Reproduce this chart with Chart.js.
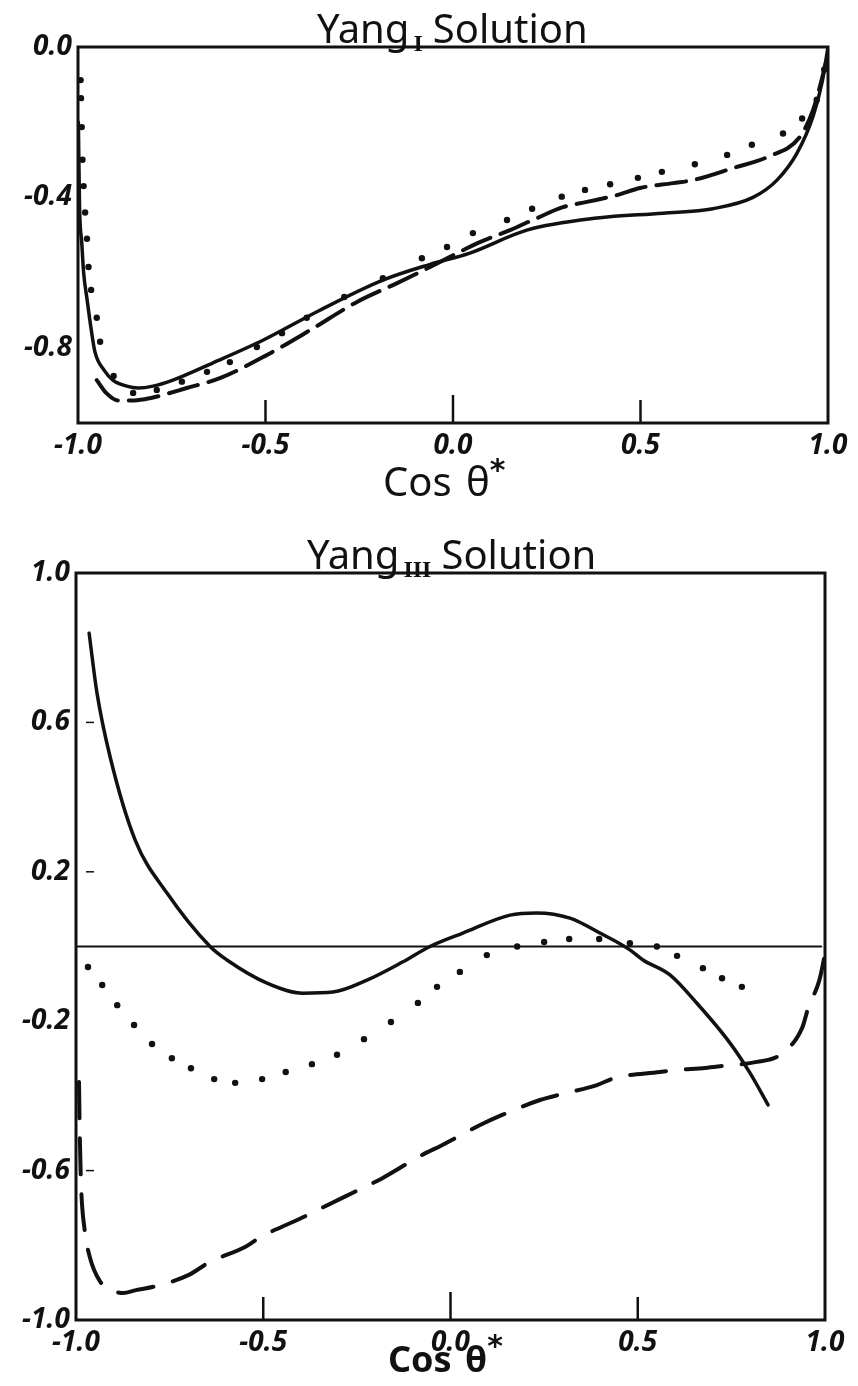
<!DOCTYPE html>
<html><head><meta charset="utf-8">
<script src="https://cdn.jsdelivr.net/npm/chart.js@4.4.1/dist/chart.umd.min.js"></script>
<style>
html,body{margin:0;padding:0;background:#fff;width:858px;height:1386px;overflow:hidden}
canvas{position:absolute;left:0}
</style></head><body>
<canvas id="c1" width="858" height="510" style="top:0"></canvas>
<canvas id="c2" width="858" height="886" style="top:500px"></canvas>
<script>
// ---------- data: top panel (Yang I) ----------
const xTicks = [-1.0, -0.5, 0.0, 0.5, 1.0];
const xInnerTicks = [-0.5, 0.0, 0.5];
const topYTicks = [0.0, -0.4, -0.8];

const topSolidX = [-0.999, -0.996, -0.99, -0.985, -0.976, -0.965, -0.955, -0.93, -0.907, -0.87, -0.84, -0.80, -0.747, -0.64, -0.507, -0.355, -0.187, -0.061, 0.045, 0.197, 0.384, 0.56, 0.693, 0.80, 0.864, 0.917, 0.96, 0.985, 1.0];
const topSolidY = [-0.20, -0.42, -0.52, -0.60, -0.67, -0.75, -0.81, -0.86, -0.886, -0.902, -0.907, -0.902, -0.886, -0.84, -0.78, -0.70, -0.62, -0.578, -0.548, -0.487, -0.455, -0.442, -0.43, -0.40, -0.354, -0.283, -0.185, -0.09, 0.0];

const topDotX = [-0.993, -0.992, -0.99, -0.988, -0.985, -0.981, -0.976, -0.972, -0.965, -0.95, -0.941, -0.905, -0.853, -0.79, -0.723, -0.656, -0.595, -0.523, -0.456, -0.39, -0.29, -0.187, -0.083, -0.016, 0.053, 0.144, 0.211, 0.29, 0.352, 0.419, 0.493, 0.557, 0.645, 0.731, 0.797, 0.88, 0.931, 0.97, 0.99];
const topDotY = [-0.088, -0.136, -0.213, -0.30, -0.37, -0.44, -0.51, -0.585, -0.646, -0.72, -0.784, -0.875, -0.92, -0.912, -0.89, -0.864, -0.838, -0.798, -0.761, -0.72, -0.665, -0.615, -0.562, -0.532, -0.495, -0.46, -0.43, -0.398, -0.38, -0.365, -0.348, -0.332, -0.312, -0.287, -0.26, -0.23, -0.19, -0.14, -0.06];

const topDashX = [-0.95, -0.925, -0.893, -0.85, -0.808, -0.71, -0.62, -0.496, -0.381, -0.256, -0.149, -0.061, -0.008, 0.067, 0.152, 0.224, 0.293, 0.357, 0.437, 0.499, 0.587, 0.64, 0.747, 0.84, 0.925, 0.96, 0.985, 1.0];
const topDashY = [-0.886, -0.92, -0.94, -0.94, -0.934, -0.907, -0.88, -0.819, -0.753, -0.678, -0.628, -0.585, -0.558, -0.521, -0.487, -0.455, -0.426, -0.412, -0.394, -0.375, -0.362, -0.354, -0.322, -0.292, -0.239, -0.168, -0.08, -0.016];

// ---------- data: bottom panel (Yang III) ----------
const botYTicks = [1.0, 0.6, 0.2, -0.2, -0.6, -1.0];
const botYInnerTicks = [0.6, 0.2, -0.6];
const zeroLineX = [-1.0, 0.99];
const zeroLineY = [0.0, 0.0];

const botSolidX = [-0.965, -0.944, -0.909, -0.842, -0.757, -0.642, -0.597, -0.49, -0.394, -0.314, -0.223, -0.127, -0.055, 0.033, 0.159, 0.23, 0.319, 0.399, 0.479, 0.514, 0.586, 0.658, 0.746, 0.80, 0.848];
const botSolidY = [0.839, 0.679, 0.508, 0.285, 0.143, 0.0, -0.036, -0.098, -0.125, -0.122, -0.09, -0.041, 0.0, 0.036, 0.084, 0.09, 0.076, 0.036, -0.009, -0.036, -0.076, -0.152, -0.258, -0.339, -0.424];

const botDotX = [-0.968, -0.93, -0.89, -0.845, -0.797, -0.744, -0.693, -0.631, -0.575, -0.503, -0.44, -0.37, -0.303, -0.231, -0.159, -0.087, -0.036, 0.025, 0.097, 0.178, 0.25, 0.317, 0.397, 0.479, 0.551, 0.605, 0.674, 0.725, 0.778];
const botDotY = [-0.055, -0.103, -0.157, -0.21, -0.261, -0.299, -0.326, -0.355, -0.365, -0.355, -0.336, -0.315, -0.29, -0.248, -0.202, -0.151, -0.108, -0.068, -0.023, 0.0, 0.012, 0.02, 0.02, 0.009, 0.0, -0.025, -0.058, -0.085, -0.108];

const botDashX = [-0.992, -0.99, -0.986, -0.978, -0.963, -0.935, -0.905, -0.874, -0.84, -0.789, -0.70, -0.645, -0.546, -0.509, -0.394, -0.34, -0.242, -0.183, -0.081, -0.023, 0.079, 0.138, 0.239, 0.298, 0.391, 0.439, 0.559, 0.599, 0.68, 0.725, 0.818, 0.88, 0.939, 0.955, 0.985, 1.0];
const botDashY = [-0.363, -0.50, -0.65, -0.75, -0.832, -0.898, -0.92, -0.928, -0.92, -0.91, -0.88, -0.846, -0.803, -0.779, -0.725, -0.698, -0.65, -0.621, -0.561, -0.532, -0.478, -0.451, -0.411, -0.395, -0.371, -0.352, -0.336, -0.331, -0.325, -0.32, -0.309, -0.29, -0.218, -0.165, -0.09, -0.02];

// ---------- helpers ----------
const pts = (xs, ys) => xs.map((x, i) => ({x: x, y: ys[i]}));
const fmt = v => (Math.abs(v) < 1e-9 ? 0 : v).toFixed(1);
const INK = '#111';

function frameAndTitle(opts) {
  return {
    id: 'frame',
    afterDatasetsDraw(chart) {
      const ctx = chart.ctx, a = chart.chartArea;
      const xs = chart.scales.x, ys = chart.scales.y;
      ctx.save();
      ctx.strokeStyle = INK;
      ctx.lineWidth = 3;
      ctx.strokeRect(a.left, a.top, a.right - a.left, a.bottom - a.top);
      // inner x ticks
      ctx.lineWidth = 2.5;
      xInnerTicks.forEach((v, i) => {
        const px = xs.getPixelForValue(v);
        ctx.beginPath();
        ctx.moveTo(px, a.bottom);
        ctx.lineTo(px, a.bottom - (i === 1 ? 28 : 23));
        ctx.stroke();
      });
      (opts.yInner || []).forEach(v => {
        const py = ys.getPixelForValue(v);
        ctx.lineWidth = 1.5;
        ctx.beginPath();
        ctx.moveTo(a.left + 10, py);
        ctx.lineTo(a.left + 18, py);
        ctx.stroke();
      });
      // title
      ctx.fillStyle = INK;
      ctx.textBaseline = 'alphabetic';
      ctx.textAlign = 'left';
      const base = a.top - 4;
      ctx.font = '40px "Noto Sans"';
      ctx.fillText('Yang', opts.titleX, base);
      let x = opts.titleX + ctx.measureText('Yang').width + 4;
      ctx.font = 'bold 24px "Liberation Serif"';
      ctx.fillText(opts.sub, x, base + 8);
      x += ctx.measureText(opts.sub).width + 10;
      ctx.font = '40px "Noto Sans"';
      ctx.fillText('Solution', x, base);
      // axis title
      ctx.font = opts.axisFont;
      ctx.fillText('Cos ', opts.axisX, opts.axisBase);
      let x2 = opts.axisX + ctx.measureText('Cos ').width + 4;
      ctx.fillText('θ', x2, opts.axisBase);
      x2 += ctx.measureText('θ').width;
      ctx.font = 'bold 30px "DejaVu Sans"';
      ctx.fillText('*', x2, opts.axisBase - 16);
      ctx.restore();
    }
  };
}

function makeChart(id, cfg) {
  const tickFont = {family: '"Noto Sans"', size: 28, style: 'italic', weight: 'bold'};
  return new Chart(document.getElementById(id), {
    type: 'line',
    data: {datasets: cfg.datasets},
    options: {
      responsive: false,
      animation: false,
      events: [],
      layout: {padding: cfg.padding},
      plugins: {legend: {display: false}, tooltip: {enabled: false}, title: {display: false}},
      elements: {point: {radius: 0}, line: {cubicInterpolationMode: 'monotone', borderJoinStyle: 'round', borderCapStyle: 'round'}},
      scales: {
        x: {
          type: 'linear', min: -1, max: 1,
          afterBuildTicks: s => { s.ticks = xTicks.map(v => ({value: v})); },
          afterFit: s => { s.height = cfg.xAxisH; },
          grid: {display: false, drawTicks: false},
          border: {display: false},
          ticks: {color: INK, font: tickFont, padding: 6, maxRotation: 0, autoSkip: false, callback: v => fmt(v)}
        },
        y: {
          type: 'linear', min: cfg.yMin, max: cfg.yMax,
          afterBuildTicks: s => { s.ticks = cfg.yTicks.map(v => ({value: v})); },
          afterFit: s => { s.width = cfg.yAxisW; },
          grid: {display: false, drawTicks: false},
          border: {display: false},
          ticks: {color: INK, font: tickFont, padding: 6, autoSkip: false, callback: v => fmt(v)}
        }
      }
    },
    plugins: [frameAndTitle(cfg.frame)]
  });
}

// top chart: chartArea left 78, right 828, top 47, bottom 423
makeChart('c1', {
  padding: {top: 47, left: 0, right: 30, bottom: 27},
  xAxisH: 60, yAxisW: 78, yMin: -1, yMax: 0, yTicks: topYTicks,
  frame: {titleX: 317, sub: 'I', axisX: 383, axisBase: 496, axisFont: '40px "Noto Sans"'},
  datasets: [
    {label: 'solid', data: pts(topSolidX, topSolidY), borderColor: INK, borderWidth: 3.5, fill: false},
    {label: 'dashed', data: pts(topDashX, topDashY), borderColor: INK, borderWidth: 4, borderDash: [30, 11], fill: false},
    {label: 'dotted', data: pts(topDotX, topDotY), showLine: false, pointRadius: 3.2, pointBackgroundColor: INK, pointBorderWidth: 0}
  ]
});

// bottom chart (canvas top 500): chartArea left 76, right 825, top 73, bottom 820
makeChart('c2', {
  padding: {top: 73, left: 0, right: 33, bottom: 6},
  xAxisH: 60, yAxisW: 76, yMin: -1, yMax: 1, yTicks: botYTicks,
  frame: {titleX: 307, sub: 'III', axisX: 388, axisBase: 872, axisFont: 'bold 36px "Noto Sans"', yInner: botYInnerTicks},
  datasets: [
    {label: 'zero', data: pts(zeroLineX, zeroLineY), borderColor: INK, borderWidth: 2, cubicInterpolationMode: 'default', tension: 0, fill: false},
    {label: 'solid', data: pts(botSolidX, botSolidY), borderColor: INK, borderWidth: 3.5, fill: false},
    {label: 'dashed', data: pts(botDashX, botDashY), borderColor: INK, borderWidth: 4, borderDash: [36, 20], fill: false},
    {label: 'dotted', data: pts(botDotX, botDotY), showLine: false, pointRadius: 3.2, pointBackgroundColor: INK, pointBorderWidth: 0}
  ]
});
</script>
</body></html>
